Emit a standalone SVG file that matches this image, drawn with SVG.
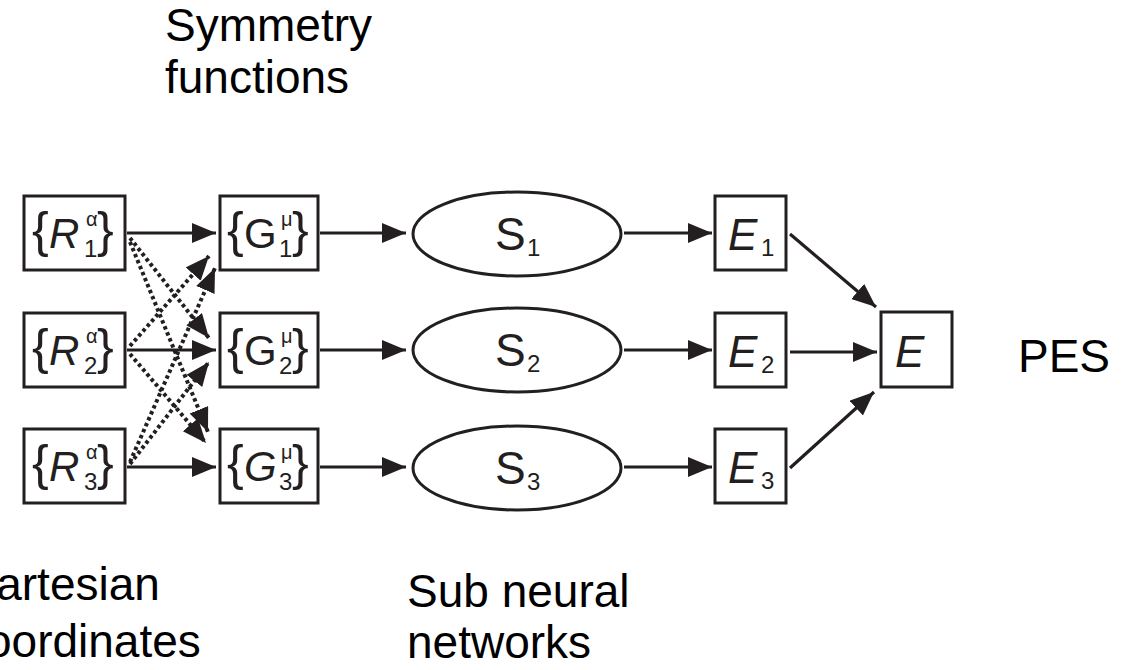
<svg xmlns="http://www.w3.org/2000/svg" width="1140" height="670" viewBox="0 0 1140 670">
  <style>
    .box { fill: #fff; stroke: #231f20; stroke-width: 3; }
    .oval { fill: #fff; stroke: #231f20; stroke-width: 3; }
    .lbl { font-family: "Liberation Sans", Arial, sans-serif; fill: #231f20; }
    .brace { font-family: "Liberation Sans", Arial, sans-serif; fill: #231f20; font-size: 50px; }
    .cap { font-family: "Liberation Sans", Arial, sans-serif; fill: #000; font-size: 46px; }
    .solid { stroke: #231f20; stroke-width: 3.2; fill: none; marker-end: url(#head); }
    .dot { stroke: #231f20; stroke-width: 4; fill: none; stroke-dasharray: 3.5 3; marker-end: url(#head); }
  </style>
  <defs>
    <marker id="head" markerUnits="userSpaceOnUse" markerWidth="26" markerHeight="22" refX="24" refY="10" orient="auto">
      <path d="M0,0 L24,10 L0,20 z" fill="#231f20"/>
    </marker>
  </defs>

  <rect width="1140" height="670" fill="#fff"/>

  <!-- captions -->
  <text class="cap" x="165" y="41">Symmetry</text>
  <text class="cap" x="165" y="93">functions</text>
  <text class="cap" x="1018" y="372">PES</text>
  <text class="cap" x="-37" y="600">Cartesian</text>
  <text class="cap" x="-37" y="657">coordinates</text>
  <text class="cap" x="407" y="607">Sub neural</text>
  <text class="cap" x="407" y="658">networks</text>

  <!-- connectors -->
  <g id="connectors">
    <!-- coordinates to symmetry functions -->
    <line class="solid" x1="127" y1="233" x2="216" y2="233"/>
    <line class="solid" x1="127" y1="350" x2="216" y2="350"/>
    <line class="solid" x1="127" y1="467" x2="216" y2="467"/>
    <line class="dot" x1="130" y1="238" x2="209" y2="338"/>
    <line class="dot" x1="130" y1="242" x2="208" y2="432"/>
    <line class="dot" x1="130" y1="346" x2="209" y2="256"/>
    <line class="dot" x1="130" y1="354" x2="206" y2="443"/>
    <line class="dot" x1="130" y1="462" x2="215" y2="268"/>
    <line class="dot" x1="130" y1="464" x2="209" y2="362"/>
    <!-- symmetry functions to sub networks -->
    <line class="solid" x1="320" y1="233" x2="406" y2="233"/>
    <line class="solid" x1="320" y1="350" x2="406" y2="350"/>
    <line class="solid" x1="320" y1="467" x2="406" y2="467"/>
    <!-- sub networks to atomic energies -->
    <line class="solid" x1="624" y1="233" x2="712" y2="233"/>
    <line class="solid" x1="624" y1="350" x2="712" y2="350"/>
    <line class="solid" x1="624" y1="467" x2="712" y2="467"/>
    <!-- atomic energies to total energy -->
    <line class="solid" x1="790" y1="234" x2="876" y2="307"/>
    <line class="solid" x1="790" y1="352" x2="877" y2="352"/>
    <line class="solid" x1="790" y1="468" x2="874" y2="392"/>
  </g>

  <!-- Cartesian coordinate sets -->
  <g id="R1">
    <rect class="box" x="24" y="196" width="101" height="74"/>
    <text class="brace" x="32" y="247">{</text>
    <text class="lbl" x="49" y="248" font-size="42" font-style="italic">R</text>
    <text class="lbl" x="86" y="226" font-size="20">α</text>
    <text class="lbl" x="84" y="257" font-size="24">1</text>
    <text class="brace" x="97" y="247">}</text>
  </g>
  <g id="R2">
    <rect class="box" x="24" y="313" width="101" height="74"/>
    <text class="brace" x="32" y="364">{</text>
    <text class="lbl" x="49" y="365" font-size="42" font-style="italic">R</text>
    <text class="lbl" x="86" y="343" font-size="20">α</text>
    <text class="lbl" x="84" y="374" font-size="24">2</text>
    <text class="brace" x="97" y="364">}</text>
  </g>
  <g id="R3">
    <rect class="box" x="24" y="429" width="101" height="74"/>
    <text class="brace" x="32" y="480">{</text>
    <text class="lbl" x="49" y="481" font-size="42" font-style="italic">R</text>
    <text class="lbl" x="86" y="459" font-size="20">α</text>
    <text class="lbl" x="84" y="490" font-size="24">3</text>
    <text class="brace" x="97" y="480">}</text>
  </g>

  <!-- symmetry function sets -->
  <g id="G1">
    <rect class="box" x="220" y="196" width="98" height="74"/>
    <text class="brace" x="227" y="247">{</text>
    <text class="lbl" x="244" y="248" font-size="42">G</text>
    <text class="lbl" x="281" y="226" font-size="20">μ</text>
    <text class="lbl" x="279" y="257" font-size="24">1</text>
    <text class="brace" x="292" y="247">}</text>
  </g>
  <g id="G2">
    <rect class="box" x="220" y="313" width="98" height="74"/>
    <text class="brace" x="227" y="364">{</text>
    <text class="lbl" x="244" y="365" font-size="42">G</text>
    <text class="lbl" x="281" y="343" font-size="20">μ</text>
    <text class="lbl" x="279" y="374" font-size="24">2</text>
    <text class="brace" x="292" y="364">}</text>
  </g>
  <g id="G3">
    <rect class="box" x="220" y="429" width="98" height="74"/>
    <text class="brace" x="227" y="480">{</text>
    <text class="lbl" x="244" y="481" font-size="42" font-style="italic">G</text>
    <text class="lbl" x="281" y="459" font-size="20">μ</text>
    <text class="lbl" x="279" y="490" font-size="24">3</text>
    <text class="brace" x="292" y="480">}</text>
  </g>

  <!-- sub neural networks -->
  <g id="S1">
    <ellipse class="oval" cx="517" cy="234" rx="104" ry="42"/>
    <text class="lbl" x="495" y="250" font-size="46">S</text>
    <text class="lbl" x="527" y="256" font-size="24">1</text>
  </g>
  <g id="S2">
    <ellipse class="oval" cx="517" cy="350" rx="104" ry="42"/>
    <text class="lbl" x="495" y="366" font-size="46">S</text>
    <text class="lbl" x="527" y="372" font-size="24">2</text>
  </g>
  <g id="S3">
    <ellipse class="oval" cx="517" cy="468" rx="104" ry="42"/>
    <text class="lbl" x="495" y="484" font-size="46">S</text>
    <text class="lbl" x="527" y="490" font-size="24">3</text>
  </g>

  <!-- atomic energies -->
  <g id="E1">
    <rect class="box" x="715" y="196" width="71" height="74"/>
    <text class="lbl" x="728" y="250" font-size="44" font-style="italic">E</text>
    <text class="lbl" x="761" y="256" font-size="24">1</text>
  </g>
  <g id="E2">
    <rect class="box" x="715" y="313" width="71" height="74"/>
    <text class="lbl" x="728" y="367" font-size="44" font-style="italic">E</text>
    <text class="lbl" x="761" y="373" font-size="24">2</text>
  </g>
  <g id="E3">
    <rect class="box" x="715" y="429" width="71" height="74"/>
    <text class="lbl" x="728" y="483" font-size="44" font-style="italic">E</text>
    <text class="lbl" x="761" y="489" font-size="24">3</text>
  </g>

  <!-- total energy -->
  <g id="E">
    <rect class="box" x="881" y="312" width="71" height="75"/>
    <text class="lbl" x="895" y="367" font-size="44" font-style="italic">E</text>
  </g>
</svg>
